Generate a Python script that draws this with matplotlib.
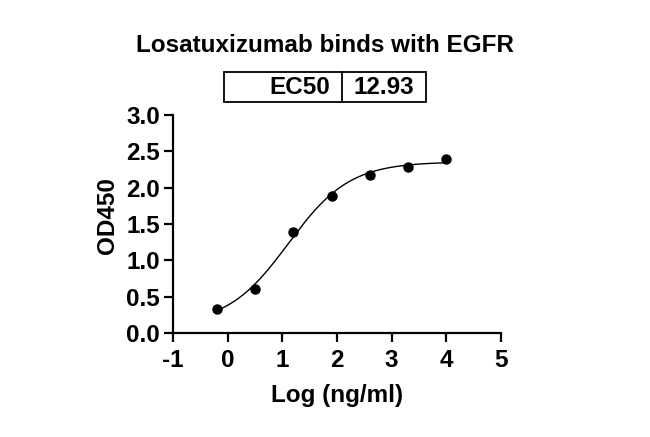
import numpy as np
import matplotlib
matplotlib.use("Agg")
import matplotlib.pyplot as plt

# Data
log_conc = [-0.2, 0.5, 1.2, 1.9, 2.6, 3.3, 4.0]
od450 = [0.335, 0.61, 1.385, 1.89, 2.18, 2.29, 2.39]
ec50_label = "EC50"
ec50_value = 12.93
title = "Losatuxizumab binds with EGFR"
x_ticks = [-1, 0, 1, 2, 3, 4, 5]
y_ticks = [0.0, 0.5, 1.0, 1.5, 2.0, 2.5, 3.0]

plt.rcParams['font.family'] = ['Liberation Sans', 'DejaVu Sans']
plt.rcParams['font.weight'] = 'bold'
FS = 17.5

# 4PL fit with logEC50 fixed at reported EC50: grid over hill, linear LS for bottom/top
x = np.array(log_conc)
y = np.array(od450)
logec = np.log10(ec50_value)
best = None
for h in np.linspace(0.3, 3.0, 541):
    f = 1.0 / (1.0 + 10 ** ((logec - x) * h))
    A = np.vstack([1 - f, f]).T
    coef, *_ = np.linalg.lstsq(A, y, rcond=None)
    r = np.sum((A @ coef - y) ** 2)
    if best is None or r < best[0]:
        best = (r, h, coef)
_, hill, (bottom, top) = best
xc = np.linspace(min(log_conc), max(log_conc), 300)
yc = bottom + (top - bottom) / (1 + 10 ** ((logec - xc) * hill))

fig = plt.figure(figsize=(6.5, 4.37), dpi=100)
ax = fig.add_axes([173 / 650, 1 - 333 / 437, (501 - 173) / 650, (333 - 115) / 437])
ax.plot(xc, yc, color='black', lw=1.0)
ax.plot(log_conc, od450, 'o', color='black', ms=6.5)
ax.set_xlim(-1, 5)
ax.set_ylim(0, 3.0)
ax.set_xticks(x_ticks)
ax.set_yticks(y_ticks)
ax.set_xticklabels([str(t) for t in x_ticks])
ax.set_yticklabels([f"{t:.1f}" for t in y_ticks])
for s in ['top', 'right']:
    ax.spines[s].set_visible(False)
for s in ['left', 'bottom']:
    ax.spines[s].set_linewidth(1.6)
ax.tick_params(width=1.6, length=6.5, labelsize=FS, pad=3)
ax.tick_params(axis='x', pad=5)
for lab in ax.get_xticklabels() + ax.get_yticklabels():
    lab.set_fontweight('bold')
ax.set_xlabel("Log (ng/ml)", fontsize=FS, fontweight='bold', labelpad=9)
ax.set_ylabel("OD450", fontsize=FS, fontweight='bold', labelpad=5)
ax.yaxis.label.set_y(0.5 + 8 / 218)

fig.text(0.5, 1 - 45 / 437, title, ha='center', va='center', fontsize=FS, fontweight='bold')

# EC50 table box
bx0, bx1, bdiv = 224 / 650, 426 / 650, 342 / 650
by0, by1 = 1 - 102 / 437, 1 - 72 / 437
fig.add_artist(plt.Rectangle((bx0, by0), bx1 - bx0, by1 - by0, transform=fig.transFigure,
                             fill=False, lw=1.3, edgecolor='black'))
fig.add_artist(plt.Line2D([bdiv, bdiv], [by0, by1], transform=fig.transFigure, lw=1.3, color='black'))
fig.text(bdiv - 12 / 650, (by0 + by1) / 2, ec50_label, ha='right', va='center', fontsize=FS, fontweight='bold')
fig.text((bdiv + bx1) / 2, (by0 + by1) / 2, f"{ec50_value:.2f}", ha='center', va='center', fontsize=FS, fontweight='bold')

fig.savefig("out.png", dpi=100)
